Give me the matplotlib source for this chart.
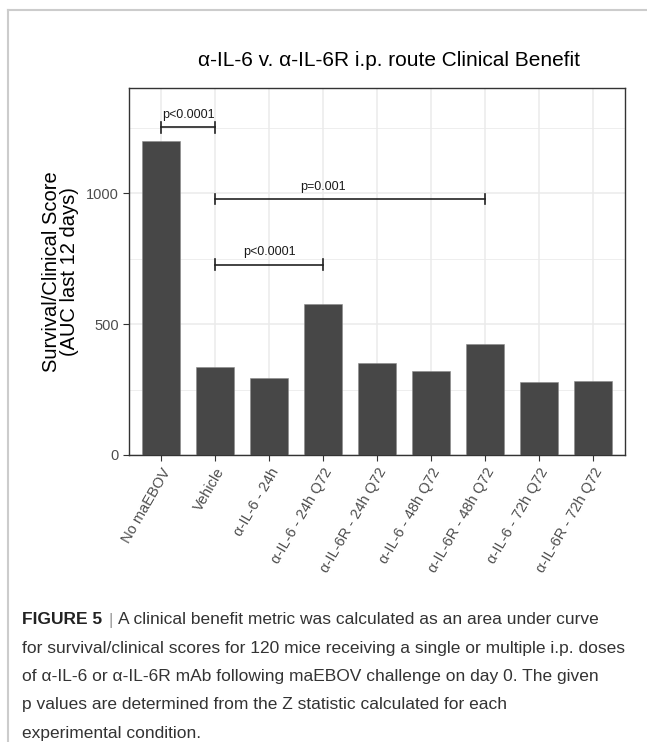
import numpy as np
import matplotlib
matplotlib.use("Agg")
import matplotlib.pyplot as plt
from matplotlib.lines import Line2D

plt.rcParams['font.family'] = ['Liberation Sans', 'DejaVu Sans']

# data
groups = ["No maEBOV", "Vehicle", "α-IL-6 - 24h", "α-IL-6 - 24h Q72",
          "α-IL-6R - 24h Q72", "α-IL-6 - 48h Q72", "α-IL-6R - 48h Q72",
          "α-IL-6 - 72h Q72", "α-IL-6R - 72h Q72"]
auc = [1200, 337, 294, 577, 352, 323, 424, 279, 281]

# brackets: (start group, end group, bracket height, label, label group)
br_start = [0, 1, 1]
br_end = [1, 6, 3]
br_y = [1252, 978, 728]
br_text = ["p<0.0001", "p=0.001", "p<0.0001"]
br_text_x = [0.5, 3, 2]

caption_lines = [
    "for survival/clinical scores for 120 mice receiving a single or multiple i.p. doses",
    "of α-IL-6 or α-IL-6R mAb following maEBOV challenge on day 0. The given",
    "p values are determined from the Z statistic calculated for each",
    "experimental condition.",
]

W, H = 647, 742
fig = plt.figure(figsize=(W / 100, H / 100), dpi=100)

# light grey frame round the figure box
fig.add_artist(Line2D([8 / W, 1.0], [1 - 10 / H, 1 - 10 / H], color="#cccccc", lw=1.5))
fig.add_artist(Line2D([8 / W, 8 / W], [0, 1 - 10 / H], color="#cccccc", lw=1.5))

ax = fig.add_axes([129 / W, 1 - 455 / H, (625 - 129) / W, (455 - 88) / H])
x = np.arange(len(groups))
ax.bar(x, auc, width=0.7, color="#474747", edgecolor="#8a8a8a", linewidth=0.4, zorder=3)

ax.set_xlim(-0.6, len(groups) - 1 + 0.6)
ax.set_ylim(0, 1403)
ax.set_yticks([0, 500, 1000])
ax.set_yticks([250, 750, 1250], minor=True)
ax.set_xticks(x)
ax.set_xticklabels(groups, rotation=60, ha="right", va="top", rotation_mode="anchor",
                   fontsize=10.5, color="#4d4d4d")
ax.tick_params(axis="y", labelsize=10.5, labelcolor="#4d4d4d", color="#333333", length=4)
ax.tick_params(axis="x", color="#333333", length=4)
ax.tick_params(which="minor", length=0)
ax.grid(which="major", color="#ebebeb", lw=1.1, zorder=0)
ax.grid(which="minor", axis="y", color="#ebebeb", lw=0.6, zorder=0)
for s in ax.spines.values():
    s.set_color("#333333")
    s.set_linewidth(1.0)

ax.set_ylabel("Survival/Clinical Score\n(AUC last 12 days)", fontsize=14.5, labelpad=5,
              linespacing=0.95)
ax.set_title("α-IL-6 v. α-IL-6R i.p. route Clinical Benefit", fontsize=15, pad=16,
             x=(389 - 129) / (625 - 129))

# significance brackets
cap = 20
for a, b, yy, t, tx in zip(br_start, br_end, br_y, br_text, br_text_x):
    ax.plot([a, b], [yy, yy], color="#222222", lw=1.2, zorder=4)
    ax.plot([a, a], [yy - cap, yy + cap], color="#222222", lw=1.2, zorder=4)
    ax.plot([b, b], [yy - cap, yy + cap], color="#222222", lw=1.2, zorder=4)
    ax.text(tx, yy + 47, t, ha="center", va="center", fontsize=9, color="#1a1a1a", zorder=5)

# caption
cap_fs = 12.5
renderer = fig.canvas.get_renderer()
y0 = 620
t1 = fig.text(22 / W, 1 - y0 / H, "FIGURE 5", fontsize=cap_fs, fontweight="bold",
              color="#222222", va="center")
bb = t1.get_window_extent(renderer)
t2 = fig.text(bb.x1 / W + 6 / W, 1 - y0 / H, "|", fontsize=cap_fs, color="#9a9a9a", va="center")
bb2 = t2.get_window_extent(renderer)
fig.text(bb2.x1 / W + 6 / W, 1 - y0 / H,
         "A clinical benefit metric was calculated as an area under curve",
         fontsize=cap_fs, color="#333333", va="center")
for i, line in enumerate(caption_lines):
    fig.text(22 / W, 1 - (y0 + 28.3 * (i + 1)) / H, line, fontsize=cap_fs, color="#333333",
             va="center")

fig.savefig("out.png", dpi=100)
